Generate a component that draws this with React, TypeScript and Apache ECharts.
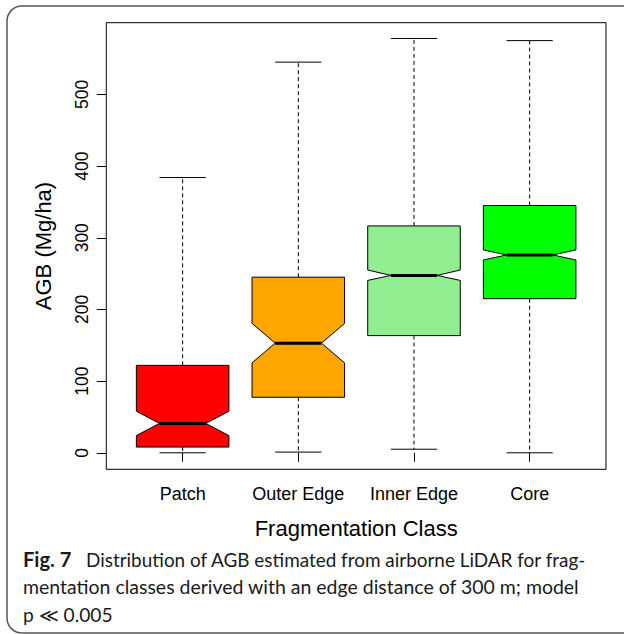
import React, { useEffect, useRef } from "react";
import * as echarts from "echarts";

const categories = ["Patch", "Outer Edge", "Inner Edge", "Core"];
const whiskerLow = [0, 1, 5, 0];
const q1 = [8, 77.5, 163.5, 215];
const notchLow = [24, 125.5, 240.5, 269];
const median = [41, 153, 247.5, 276];
const notchHigh = [58, 180.5, 255, 283];
const q3 = [122, 245, 316.5, 345];
const whiskerHigh = [384, 545, 578, 575];
const boxColors = ["#FF0000", "#FFA500", "#90EE90", "#00FF00"];
const yTicks = [0, 100, 200, 300, 400, 500];
const xTicks = [1, 2, 3, 4];

const captionLabel = "Fig. 7";
const captionLines = [
  "Distribution of AGB estimated from airborne LiDAR for frag-",
  "mentation classes derived with an edge distance of 300 m; model",
  "p \u226A 0.005",
];

const FONT = "'Liberation Sans', Arial, Helvetica, sans-serif";
const CAP_FONT = "Lato, 'Open Sans', sans-serif";

function fitSize(text: string, target: number, weight: string, fallback: number) {
  try {
    const cv = document.createElement("canvas");
    const ctx = cv.getContext("2d");
    if (!ctx) return fallback;
    ctx.font = `${weight} 100px ${CAP_FONT}`;
    const w = ctx.measureText(text).width;
    if (!w) return fallback;
    const s = (100 * target) / w;
    return s > 10 && s < 30 ? s : fallback;
  } catch (e) {
    return fallback;
  }
}

export default function App() {
  const ref = useRef<HTMLDivElement>(null);
  useEffect(() => {
    if (!ref.current) return;
    const chart = echarts.init(ref.current, null, { renderer: "svg" });
    const data = categories.map((_, i) => [
      i + 1,
      whiskerLow[i],
      q1[i],
      notchLow[i],
      median[i],
      notchHigh[i],
      q3[i],
      whiskerHigh[i],
    ]);
    const figSize = fitSize(captionLabel, 48.5, "bold", 20);
    const s1 = fitSize(captionLines[0], 501, "normal", 19);
    const s2 = fitSize(captionLines[1], 557, "normal", 19.5);
    const s3 = (s1 + s2) / 2;
    const option: any = {
      animation: false,
      backgroundColor: "#fff",
      grid: {
        left: 106.3,
        right: 18,
        top: 22.7,
        bottom: 164.7,
        show: true,
        borderColor: "#000",
        borderWidth: 1,
        backgroundColor: "transparent",
      },
      xAxis: {
        type: "value",
        min: 0.34,
        max: 4.66,
        name: "Fragmentation Class",
        nameLocation: "middle",
        nameGap: 48,
        nameTextStyle: { fontSize: 22, fontFamily: FONT, color: "#000" },
        axisLine: { show: false },
        splitLine: { show: false },
        axisTick: {
          show: true,
          inside: false,
          length: 9,
          customValues: xTicks,
          lineStyle: { color: "#000", width: 1 },
        },
        axisLabel: {
          customValues: xTicks,
          margin: 16,
          fontSize: 18,
          fontFamily: FONT,
          color: "#000",
          formatter: (v: number) => categories[Math.round(v) - 1] ?? "",
        },
      },
      yAxis: {
        type: "value",
        min: -23,
        max: 600,
        name: "AGB (Mg/ha)",
        nameLocation: "middle",
        nameGap: 52,
        nameTextStyle: { fontSize: 22, fontFamily: FONT, color: "#000" },
        axisLine: { show: false },
        splitLine: { show: false },
        axisTick: {
          show: true,
          inside: false,
          length: 9.5,
          customValues: yTicks,
          lineStyle: { color: "#000", width: 1 },
        },
        axisLabel: {
          customValues: yTicks,
          rotate: 90,
          margin: 15,
          fontSize: 17.5,
          fontFamily: FONT,
          color: "#000",
        },
      },
      series: [
        {
          type: "custom",
          data,
          encode: { x: 0, y: [1, 2, 3, 4, 5, 6, 7] },
          renderItem: (params: any, api: any) => {
            const x = api.value(0);
            const lo = api.value(1);
            const b1 = api.value(2);
            const nl = api.value(3);
            const md = api.value(4);
            const nh = api.value(5);
            const b3 = api.value(6);
            const hi = api.value(7);
            const c = (dx: number, v: number) => api.coord([x + dx, v]);
            const color = boxColors[params.dataIndex];
            const dash = { stroke: "#000", lineWidth: 1, lineDash: [4, 3], fill: null };
            const solid = { stroke: "#000", lineWidth: 1, fill: null };
            const line = (p1: number[], p2: number[], style: any) => ({
              type: "line",
              shape: { x1: p1[0], y1: p1[1], x2: p2[0], y2: p2[1] },
              style,
            });
            const poly = [
              c(-0.4, b1),
              c(-0.4, nl),
              c(-0.2, md),
              c(-0.4, nh),
              c(-0.4, b3),
              c(0.4, b3),
              c(0.4, nh),
              c(0.2, md),
              c(0.4, nl),
              c(0.4, b1),
            ];
            return {
              type: "group",
              children: [
                line(c(0, b3), c(0, hi), dash),
                line(c(0, b1), c(0, lo), dash),
                line(c(-0.2, hi), c(0.2, hi), solid),
                line(c(-0.2, lo), c(0.2, lo), solid),
                {
                  type: "polygon",
                  shape: { points: poly },
                  style: { fill: color, stroke: "#000", lineWidth: 1 },
                },
                line(c(-0.2, md), c(0.2, md), { stroke: "#000", lineWidth: 3 }),
              ],
            };
          },
        },
      ],
      graphic: [
        {
          type: "rect",
          shape: { x: 7, y: 6, width: 640, height: 627, r: 15 },
          style: { fill: "none", stroke: "#555", lineWidth: 1.5 },
          silent: true,
        },
        {
          type: "text",
          x: 23,
          y: 559,
          style: {
            text: captionLabel,
            fontSize: figSize,
            fontWeight: "bold",
            fontFamily: CAP_FONT,
            fill: "#1a1a1a",
            verticalAlign: "middle",
          },
        },
        {
          type: "text",
          x: 86,
          y: 559,
          style: {
            text: captionLines[0],
            fontSize: s1,
            fontFamily: CAP_FONT,
            fill: "#1a1a1a",
            verticalAlign: "middle",
          },
        },
        {
          type: "text",
          x: 23,
          y: 586.5,
          style: {
            text: captionLines[1],
            fontSize: s2,
            fontFamily: CAP_FONT,
            fill: "#1a1a1a",
            verticalAlign: "middle",
          },
        },
        {
          type: "text",
          x: 23,
          y: 614.5,
          style: {
            text: captionLines[2],
            fontSize: s3,
            fontFamily: CAP_FONT,
            fill: "#1a1a1a",
            verticalAlign: "middle",
          },
        },
      ],
    };
    chart.setOption(option);
    return () => chart.dispose();
  }, []);
  return (
    <div
      ref={ref}
      style={{ position: "absolute", left: 0, top: 0, width: 624, height: 634, background: "#fff" }}
    />
  );
}
